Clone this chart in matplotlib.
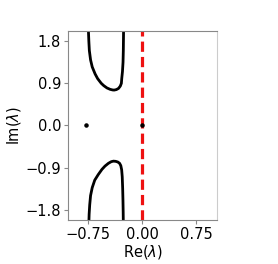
import matplotlib
matplotlib.use("Agg")
import matplotlib.pyplot as plt

# upper branch of the spectrum (Re, Im)
upper_re = [-0.749, -0.748, -0.742, -0.735, -0.718, -0.695, -0.655, -0.620,
            -0.570, -0.535, -0.490, -0.445, -0.410, -0.390, -0.360, -0.330,
            -0.305, -0.290, -0.285, -0.275, -0.267, -0.263, -0.261, -0.259]
upper_im = [2.10, 2.03, 1.80, 1.60, 1.40, 1.25, 1.10, 1.00,
            0.90, 0.85, 0.80, 0.770, 0.757, 0.755, 0.765, 0.79,
            0.84, 0.90, 1.00, 1.15, 1.35, 1.60, 1.85, 2.10]

# lower branch
lower_re = [-0.742, -0.738, -0.730, -0.718, -0.695, -0.660, -0.611, -0.560,
            -0.518, -0.470, -0.430, -0.400, -0.370, -0.340, -0.315, -0.298,
            -0.286, -0.278, -0.272, -0.268, -0.265, -0.263]
lower_im = [-2.10, -1.90, -1.70, -1.50, -1.33, -1.17, -1.05, -0.94,
            -0.87, -0.81, -0.775, -0.764, -0.768, -0.782, -0.81, -0.86,
            -0.95, -1.10, -1.35, -1.60, -1.85, -2.10]

# isolated eigenvalues
pts_re = [-0.78, 0.0]
pts_im = [0.0, 0.0]

xticks = [-0.75, 0.0, 0.75]
xticklabels = ["\u22120.75", "0.00", "0.75"]
yticks = [-1.8, -0.9, 0.0, 0.9, 1.8]

fig = plt.figure(figsize=(2.78, 2.64), dpi=100)
ax = fig.add_axes([0.245, 0.167, 0.536, 0.716])

for xs, ys in [(upper_re, upper_im), (lower_re, lower_im)]:
    ax.plot(xs, ys, color="black", lw=2.0, solid_joinstyle="round",
            solid_capstyle="round")
ax.axvline(0.0, color="#ee1111", lw=2.3, ls="--", dashes=(3.2, 1.6), zorder=2)
ax.scatter(pts_re, pts_im, s=5, color="black", zorder=3)

ax.set_xlim(-1.03, 1.04)
ax.set_ylim(-2.02, 2.02)
ax.set_xticks(xticks)
ax.set_xticklabels(xticklabels)
ax.set_yticks(yticks)
ax.tick_params(labelsize=10.5, length=3, color="#888888", pad=2)

ax.set_xlabel(r"Re($\lambda$)", fontsize=10.5, labelpad=1)
ax.set_ylabel(r"Im($\lambda$)", fontsize=10.5, labelpad=2)

for side in ["left", "bottom", "top"]:
    ax.spines[side].set_color("#888888")
ax.spines["right"].set_color("#cccccc")

fig.savefig("out.png", dpi=100)
